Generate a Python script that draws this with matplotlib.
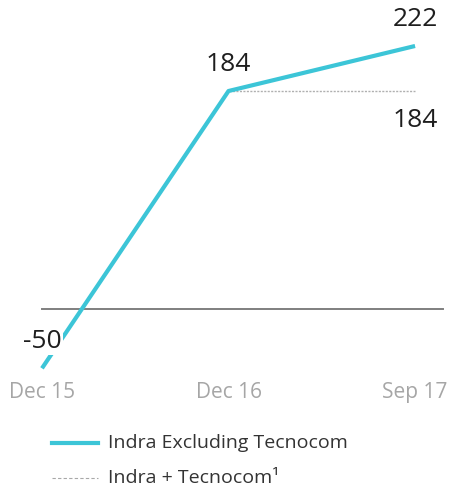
import matplotlib
matplotlib.use("Agg")
import matplotlib.pyplot as plt

categories = ["Dec 15", "Dec 16", "Sep 17"]
excl_values = [-50, 184, 222]
plus_values = [184, 184]  # Dec 16 -> Sep 17
plus_labels = ["Dec 16", "Sep 17"]
legend_labels = ["Indra Excluding Tecnocom", "Indra + Tecnocom¹"]

FONT = ["Open Sans", "DejaVu Sans"]
CYAN = "#3cc5d7"

fig = plt.figure(figsize=(4.52, 4.90), dpi=100)
ax = fig.add_axes([0, 0, 1, 1])
ax.set_axis_off()

xs = list(range(len(categories)))
ax.set_xlim(-0.225, 2.198)
ax.set_ylim(-152.7, 260.8)

# zero line
ax.plot([0, 2.15], [0, 0], color="#7f7f7f", lw=1.4, zorder=1)

# dotted grey line Indra + Tecnocom
px = [categories.index(c) for c in plus_labels]
ax.plot(px, plus_values, color="#b0b0b0", lw=1.0, ls=(0, (1.5, 1.0)), zorder=2)

# main line
ax.plot(xs, excl_values, color=CYAN, lw=3.0, solid_capstyle="butt", zorder=3)

# value labels
tkw = dict(fontsize=19, family=FONT, fontweight="normal", color="#1e1e1e", ha="center")
ax.text(xs[2], excl_values[2] + 12, str(excl_values[2]), va="bottom", **tkw)
ax.text(xs[1], excl_values[1] + 12, str(excl_values[1]), va="bottom", **tkw)
ax.text(px[1], plus_values[1] - 14, str(plus_values[1]), va="top", **tkw)
ax.text(xs[0], excl_values[0] + 12, str(excl_values[0]), va="bottom", zorder=4,
        bbox=dict(facecolor="white", edgecolor="none", pad=1.0), **tkw)

# category labels
for x, c in zip(xs, categories):
    ax.text(x, -70, c, ha="center", va="center", fontsize=15, family=FONT,
            fontweight="normal", color="#a6a6a6")

# legend (figure coords in pixels)
W, H = 452, 490
def fx(p): return p / W
def fy(p): return 1 - p / H
fig.lines.append(plt.Line2D([fx(52), fx(98)], [fy(443), fy(443)], color=CYAN, lw=3.0,
                            transform=fig.transFigure))
fig.lines.append(plt.Line2D([fx(52), fx(98)], [fy(478), fy(478)], color="#a8a8a8", lw=0.8,
                            ls=(0, (3, 2)), transform=fig.transFigure))
fig.text(fx(108), fy(443), legend_labels[0], ha="left", va="center", fontsize=14,
         family=FONT, fontweight="normal", color="#333333")
fig.text(fx(108), fy(478), legend_labels[1], ha="left", va="center", fontsize=14,
         family=FONT, fontweight="normal", color="#333333")

fig.savefig("out.png", dpi=100)
